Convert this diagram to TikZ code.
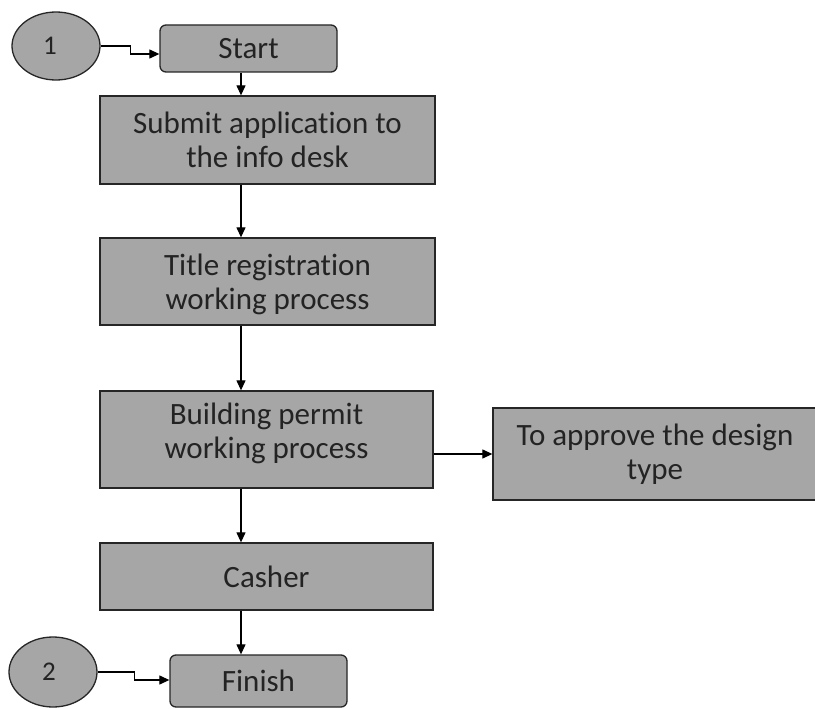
\documentclass[tikz,border=0pt]{standalone}
\usepackage{fontspec}
\setmainfont{Carlito}[Ligatures=NoCommon]
\usetikzlibrary{arrows.meta,shapes.geometric}
\definecolor{boxfill}{RGB}{166,166,166}
\definecolor{txt}{RGB}{35,35,35}
\newcommand{\twoline}[3]{\raisebox{#1}[\height][\depth]{\begin{tabular}{@{}c@{}}#2\\#3\end{tabular}}}
\tikzset{
  pbox/.style={draw=black!85, line width=1.3pt, fill=boxfill, align=center, text=txt,
    font=\fontsize{31}{34}\selectfont, inner sep=0pt},
  rbox/.style={pbox, rounded corners=6pt},
  conn/.style={draw=black!85, ellipse, line width=1.3pt, fill=boxfill, text=txt,
    font=\fontsize{27}{30}\selectfont, inner sep=0pt},
  arr/.style={line width=1.2pt, -{Triangle[length=10pt,width=9pt]}}
}
\begin{document}
\begin{tikzpicture}[x=1pt,y=-1pt]
\useasboundingbox (0,0) rectangle (815,709);
\clip (0,0) rectangle (815,709);
\fill[white] (0,0) rectangle (815,709);
\node[conn, minimum width=88pt, minimum height=68pt] (c1) at (56,46) {\hspace*{-12pt}1};
\node[rbox, minimum width=177pt, minimum height=47pt] (start) at (248.5,48.5) {Start};
\node[pbox, minimum width=335pt, minimum height=88pt] (sub) at (267.5,140) {Submit application to\\the info desk};
\node[pbox, minimum width=335pt, minimum height=87pt] (title) at (267.5,281.5) {\twoline{-4pt}{Title registration}{working process}};
\node[pbox, minimum width=333pt, minimum height=97pt] (build) at (266.5,439.5) {\twoline{5pt}{Building permit}{working process}};
\node[pbox, minimum width=324pt, minimum height=92pt] (appr) at (655,454) {To approve the design\\type};
\node[pbox, minimum width=333pt, minimum height=67pt] (cash) at (266.5,576.5) {Casher};
\node[rbox, minimum width=177pt, minimum height=52pt] (fin) at (258.5,681) {Finish};
\node[conn, minimum width=88pt, minimum height=70pt] (c2) at (53,672) {\hspace*{-8pt}2};
\coordinate (ax) at (241,0);
\draw[arr] (c1.east) -- ++(30,0) -- ++(0,8) coordinate (k1) -- (k1 -| start.west);
\draw[arr] (c2.east) -- ++(37,0) -- ++(0,8) coordinate (k2) -- (k2 -| fin.west);
\draw[arr] (start.south -| ax) -- (sub.north -| ax);
\draw[arr] (sub.south -| ax) -- (title.north -| ax);
\draw[arr] (title.south -| ax) -- (build.north -| ax);
\draw[arr] (build.south -| ax) -- (cash.north -| ax);
\draw[arr] (cash.south -| ax) -- (fin.north -| ax);
\draw[arr] (build.east |- appr.west) -- (appr.west);
\end{tikzpicture}
\end{document}
